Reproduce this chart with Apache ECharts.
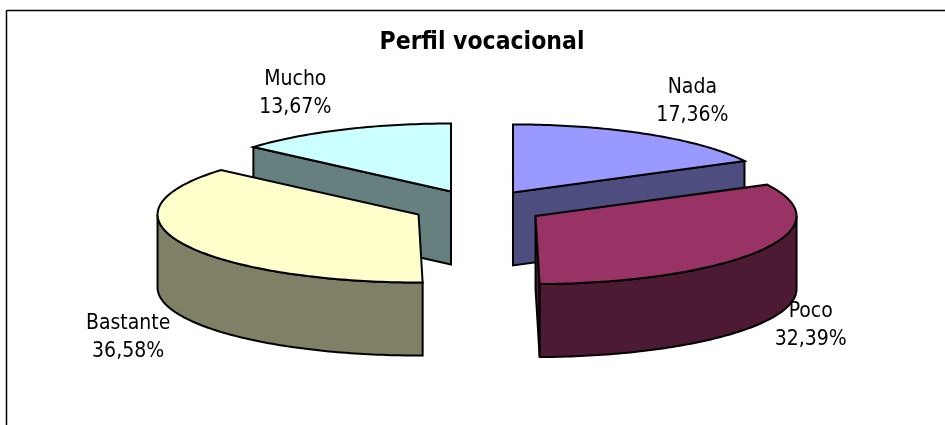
<!DOCTYPE html>
<html>
<head>
<meta charset="utf-8">
<style>html,body{margin:0;padding:0;background:#fff}#chart{width:945px;height:425px}</style>
<script src="https://cdn.jsdelivr.net/npm/echarts@6/dist/echarts.min.js"></script>
</head>
<body>
<div id="chart"></div>
<script>
var chartTitle = 'Perfil vocacional';
var categories = ['Nada', 'Poco', 'Bastante', 'Mucho'];
var values = [17.36, 32.39, 36.58, 13.67];
var topColors = ['#9999ff', '#993366', '#ffffcc', '#ccffff'];
var sideColors = ['#4d4d80', '#4d1a33', '#808066', '#668080'];
// label nudges from the rim point at each slice's mid-angle
var labelNudgeX = [44, 51, -54, -47];
var labelNudgeY = [-33, 75, 94, -36];

var CX = 478.6, CY = 207.2, RX = 261, RY = 68, DEPTH = 73, EXPLODE = 0.254;
var FONT = '"DejaVu Sans Condensed", "DejaVu Sans", sans-serif';

var total = values.reduce(function (a, b) { return a + b; }, 0);
var rad = Math.PI / 180;

function renderSlice(params, api) {
  var i = params.dataIndex;
  var before = 0;
  for (var k = 0; k < i; k++) before += values[k];
  var start = before / total * 360;
  var end = (before + api.value(1)) / total * 360;
  var mid = (start + end) / 2;
  var cx = CX + RX * EXPLODE * Math.sin(mid * rad);
  var cy = CY - RY * EXPLODE * Math.cos(mid * rad);
  function pt(a, drop) {
    return [cx + RX * Math.sin(a * rad), cy - RY * Math.cos(a * rad) + (drop || 0)];
  }
  function arc(a0, a1, drop) {
    var out = [], n = Math.max(2, Math.ceil(Math.abs(a1 - a0)));
    for (var j = 0; j <= n; j++) out.push(pt(a0 + (a1 - a0) * j / n, drop));
    return out;
  }
  var base = Math.cos(mid * rad) > 0 ? 0 : 10;
  var stroke = { stroke: '#000', lineWidth: 2, lineJoin: 'miter' };
  function poly(points, fill, z2) {
    return { type: 'polygon', z2: base + z2,
      shape: { points: points },
      style: Object.assign({ fill: fill }, stroke) };
  }
  var children = [];
  var side = sideColors[i];
  function cutWall(a) {
    var p = pt(a);
    return poly([[cx, cy], p, [p[0], p[1] + DEPTH], [cx, cy + DEPTH]], side, 1);
  }
  if (Math.sin(start * rad) < -1e-6) children.push(cutWall(start));
  if (Math.sin(end * rad) > 1e-6) children.push(cutWall(end));
  var a0 = Math.max(start, 90), a1 = Math.min(end, 270);
  if (a0 < a1) {
    children.push(poly(arc(a0, a1, 0).concat(arc(a1, a0, DEPTH)), side, 2));
  }
  children.push(poly([[cx, cy]].concat(arc(start, end, 0)), topColors[i], 3));
  var rim = pt(mid);
  children.push({
    type: 'text', z2: 50,
    style: {
      x: rim[0] + labelNudgeX[i], y: rim[1] + labelNudgeY[i],
      text: categories[i] + '\n' + api.value(1).toFixed(2).replace('.', ',') + '%',
      align: 'center', verticalAlign: 'middle',
      font: '21px ' + FONT, lineHeight: 28, fill: '#000'
    }
  });
  return { type: 'group', children: children };
}

var chart = echarts.init(document.getElementById('chart'), null, { renderer: 'canvas' });
chart.setOption({
  animation: false,
  backgroundColor: '#fff',
  title: {
    text: chartTitle, left: 477, top: 25, textAlign: 'center',
    textStyle: { fontFamily: FONT, fontWeight: 'bold', fontSize: 24.5, color: '#000' }
  },
  graphic: [
    { type: 'line', shape: { x1: 6.5, y1: 10.5, x2: 945, y2: 10.5 }, style: { stroke: '#000', lineWidth: 1.5 }, silent: true },
    { type: 'line', shape: { x1: 6.5, y1: 10.5, x2: 6.5, y2: 425 }, style: { stroke: '#000', lineWidth: 1.5 }, silent: true }
  ],
  series: [{
    type: 'custom',
    coordinateSystem: 'none',
    renderItem: renderSlice,
    silent: true,
    data: categories.map(function (c, i) { return [i, values[i]]; })
  }]
});
</script>
</body>
</html>
